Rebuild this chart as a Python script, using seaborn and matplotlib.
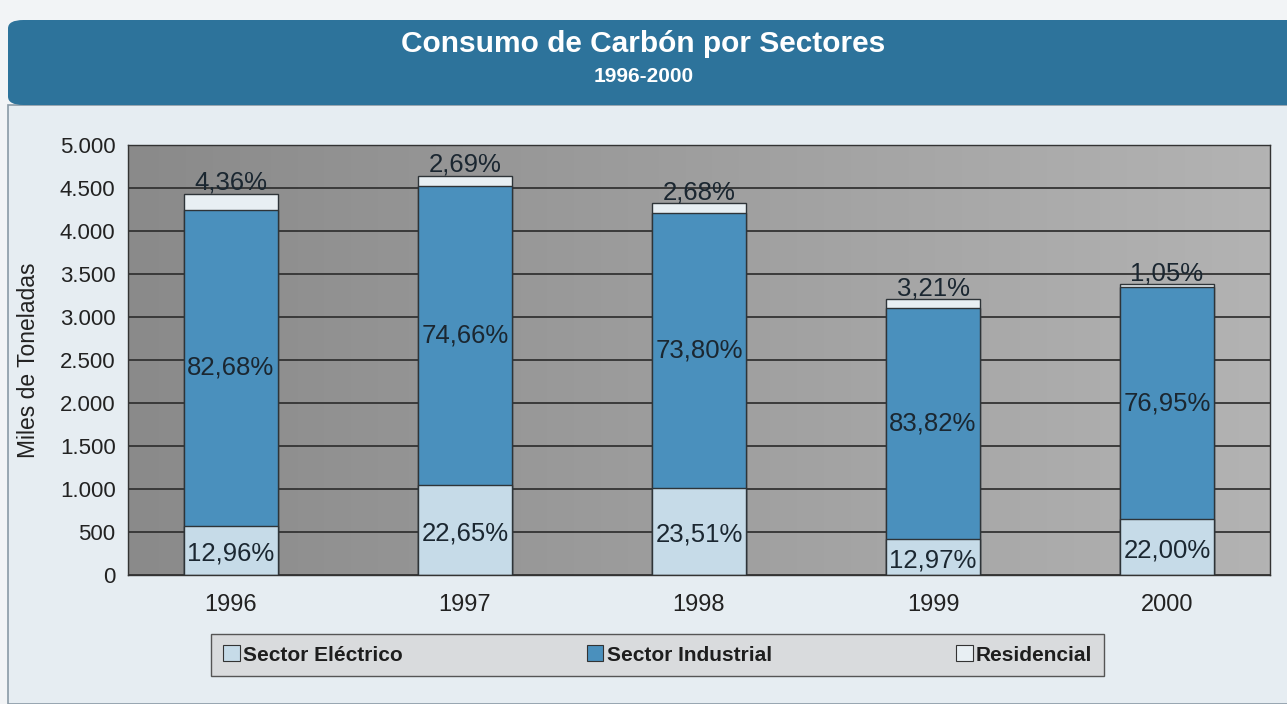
import numpy as np
import pandas as pd
import seaborn as sns
import matplotlib.pyplot as plt
from matplotlib.patches import Patch, Rectangle, FancyBboxPatch
from matplotlib.colors import LinearSegmentedColormap
from matplotlib.ticker import FuncFormatter, FixedLocator

# values (miles de toneladas)
years = ['1996', '1997', '1998', '1999', '2000']
electrico = [575, 1050, 1015, 418, 650]
industrial = [3665, 3470, 3195, 2690, 2700]
residencial = [195, 125, 115, 100, 35]

lab_electrico = ['12,96%', '22,65%', '23,51%', '12,97%', '22,00%']
lab_industrial = ['82,68%', '74,66%', '73,80%', '83,82%', '76,95%']
lab_residencial = ['4,36%', '2,69%', '2,68%', '3,21%', '1,05%']

series = ['Sector Eléctrico', 'Sector Industrial', 'Residencial']
colors = ['#c6dbe8', '#4a90bd', '#e8eff3']

df = pd.DataFrame({'year': years, 'elec': electrico, 'ind': industrial, 'res': residencial})
df['elec_ind'] = df['elec'] + df['ind']
df['total'] = df['elec_ind'] + df['res']

sns.set_style('white')
narrow = ['Liberation Sans Narrow', 'Liberation Sans', 'DejaVu Sans']
plt.rcParams['font.family'] = ['Liberation Sans', 'DejaVu Sans']

W, H = 1287, 704
fig = plt.figure(figsize=(W / 100, H / 100), dpi=100)
fig.patch.set_facecolor('#f2f4f6')

# card and banner (behind the axes)
fig.patches.append(Rectangle((8 / W, 0), 1, 1 - 105 / H, transform=fig.transFigure,
                             facecolor='#e6edf2', edgecolor='#8a9aa6', lw=1.2, zorder=-2))
fig.patches.append(FancyBboxPatch((8 / W, 1 - 105 / H), 1.05, 85 / H, transform=fig.transFigure,
                                  boxstyle='round,pad=0,rounding_size=0.012',
                                  facecolor='#2d739b', edgecolor='none', zorder=-2))
fig.text(0.5, 1 - 44 / H, 'Consumo de Carbón por Sectores', ha='center', va='center',
         color='white', fontsize=21.5, fontweight='bold', family=narrow)
fig.text(0.5, 1 - 77 / H, '1996-2000', ha='center', va='center',
         color='white', fontsize=15, fontweight='bold', family=narrow)

ax = fig.add_axes([128 / W, 1 - 575 / H, 1142 / W, 430 / H])

# gray gradient plot area
cmap = LinearSegmentedColormap.from_list('bg', ['#8a8a8a', '#b3b3b3'])
ax.imshow(np.linspace(0, 1, 256).reshape(1, -1), cmap=cmap, aspect='auto',
          extent=[-0.44, 4.44, 0, 5000], zorder=0)

bw = 0.4
edge = dict(edgecolor='#2e3438', linewidth=1.0)
sns.barplot(data=df, x='year', y='total', color=colors[2], width=bw, saturation=1, ax=ax, **edge)
sns.barplot(data=df, x='year', y='elec_ind', color=colors[1], width=bw, saturation=1, ax=ax, **edge)
sns.barplot(data=df, x='year', y='elec', color=colors[0], width=bw, saturation=1, ax=ax, **edge)

txt = dict(ha='center', fontsize=18.5, color='#1b2731')
for i in range(len(years)):
    ax.text(i, df['elec'][i] / 2 - 40, lab_electrico[i], va='center', **txt)
    ax.text(i, df['elec'][i] + df['ind'][i] / 2, lab_industrial[i], va='center', **txt)
    ax.annotate(lab_residencial[i], (i, df['total'][i]), xytext=(0, -1),
                textcoords='offset points', va='bottom', **txt)

ax.set_xlim(-0.44, 4.44)
ax.set_ylim(0, 5000)
ax.set_yticks(np.arange(0, 5001, 500))
ax.yaxis.set_major_formatter(FuncFormatter(lambda v, p: f'{int(v):,}'.replace(',', '.')))
ax.yaxis.grid(True, color='#333333', lw=1.3)
ax.set_axisbelow(True)
ax.xaxis.set_minor_locator(FixedLocator([0.5, 1.5, 2.5, 3.5]))
ax.tick_params(axis='x', which='major', length=0, pad=14, labelsize=17, labelcolor='#222')
ax.tick_params(axis='x', which='minor', length=6, width=1, color='#333', direction='out')
ax.tick_params(axis='y', length=6, width=1, color='#333', direction='out', pad=3,
               labelsize=16, labelcolor='#222')
for s in ax.spines.values():
    s.set_color('#333')
    s.set_linewidth(1.0)
    s.set_visible(True)
ax.set_xlabel('')
ax.set_ylabel('Miles de Toneladas', fontsize=16.5, color='#222', labelpad=14)

handles = [Patch(facecolor=c, edgecolor='#333', lw=0.8) for c in colors]
leg = fig.legend(handles, series, ncol=3, mode='expand', loc='center',
                 bbox_to_anchor=(201 / W, 1 - 677 / H, 913 / W, 44 / H),
                 bbox_transform=fig.transFigure, frameon=True, fancybox=False,
                 handlelength=0.8, handleheight=0.8, handletextpad=0.15,
                 borderpad=0.55, prop={'family': narrow, 'weight': 'bold', 'size': 15})
leg.get_frame().set_facecolor('#d9dbdd')
leg.get_frame().set_edgecolor('#555')
leg.get_frame().set_alpha(1)
for t in leg.get_texts():
    t.set_color('#1e1e1e')

fig.savefig('out.png', dpi=100, facecolor=fig.get_facecolor())
